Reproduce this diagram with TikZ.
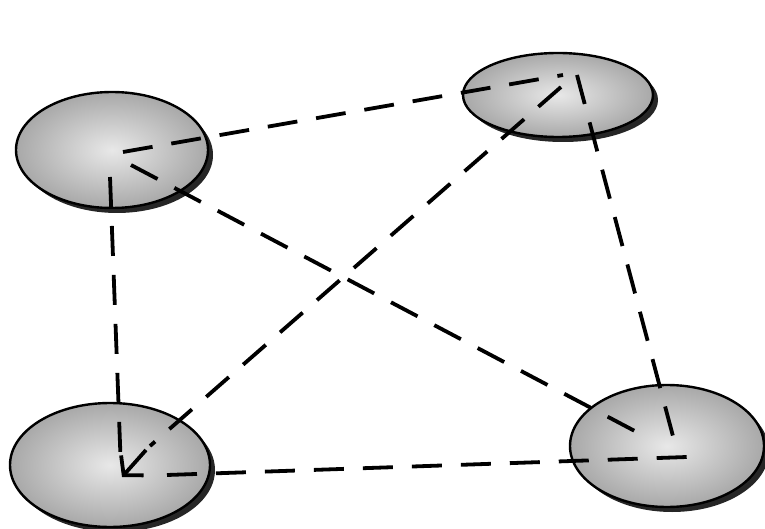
\documentclass[tikz,border=0pt]{standalone}
\usetikzlibrary{arrows.meta}
\begin{document}
\begin{tikzpicture}[x=1pt,y=-1pt,
  blob/.style={inner color=gray!18, outer color=gray!68},
  link/.style={line width=3.8pt, dash pattern=on 30pt off 19pt},
  tip/.style={line width=3.8pt, -{Straight Barb[length=13pt,width=30pt,line width=3.8pt]}},
]
\useasboundingbox (0,0) rectangle (765,529);
% ellipses: shadow, shaded body, outline
\foreach \n/\cx/\cy/\rx/\ry in {tl/112/150/96/58, tr/558/95/95/42, bl/110/465/100/62, br/667/446/97/61}{
  \fill[black!85] (\cx+5,\cy+5) ellipse [x radius=\rx, y radius=\ry];
  \shade[blob] (\cx,\cy) ellipse [x radius=\rx, y radius=\ry];
  \draw[line width=2.4pt] (\cx,\cy) ellipse [x radius=\rx, y radius=\ry];
  \coordinate (\n) at (\cx,\cy);
}
% connector end points
\coordinate (tlA) at (123,152);
\coordinate (tlB) at (131,165);
\coordinate (tlC) at (110,177);
\coordinate (trA) at (563,75);
\coordinate (trB) at (561,87);
\coordinate (trC) at (577,75);
\coordinate (blA) at (121,470);
\coordinate (blK) at (150,446);
\coordinate (blS) at (146,450);
\coordinate (blB) at (122,477);
\coordinate (blC) at (167,475);
\coordinate (brA) at (648,438);
\coordinate (brB) at (674,440);
\coordinate (brC) at (687,457);
% connectors
\draw[link] (tlA) -- (trA);
\draw[link] (tlB) -- (brA);
\draw[link] (tlC) -- (blA);
\draw[link] (trB) -- (blK);
\draw[tip] (blS) -- (blB);
\draw[link] (trC) -- (brB);
\draw[link] (blC) -- (brC);
\end{tikzpicture}
\end{document}
